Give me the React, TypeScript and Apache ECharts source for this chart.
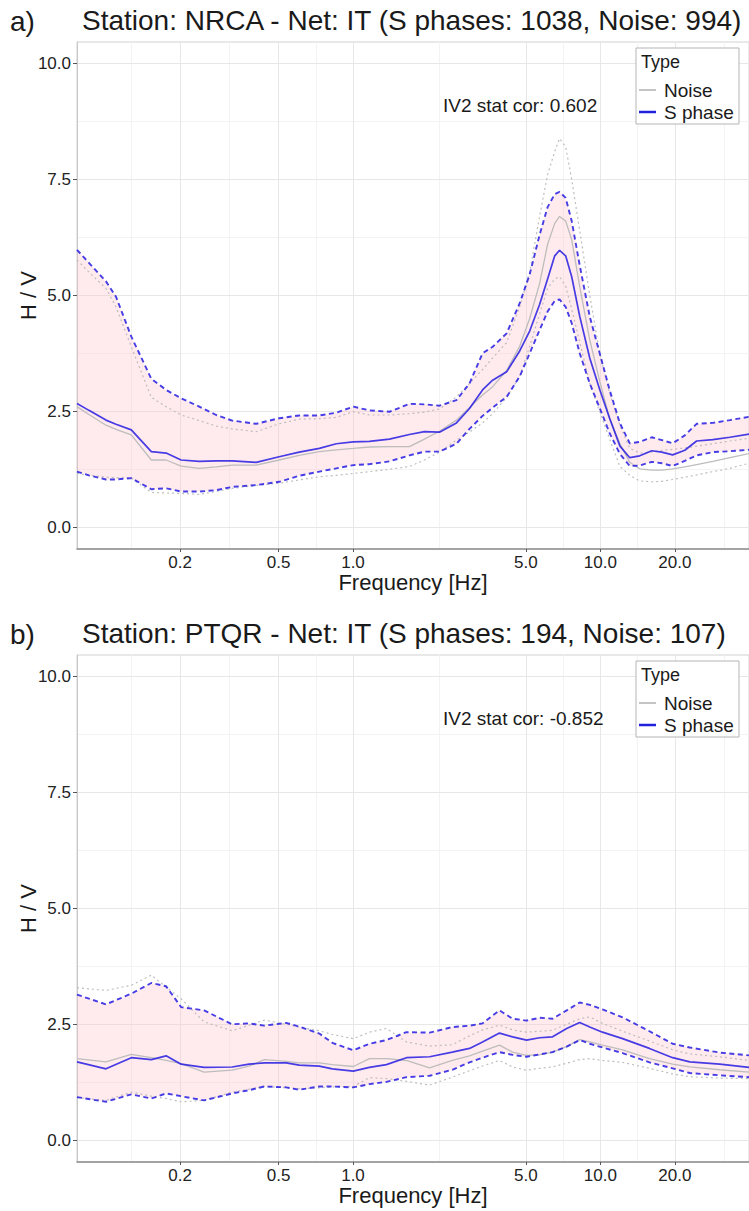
import React, { useEffect, useRef } from "react";
import * as echarts from "echarts";

const FONT = "'Liberation Sans', Arial, Helvetica, sans-serif";

// ---------- Axis tick values ----------
const majorTicksX = [0.2, 0.5, 1, 5, 10, 20];
const minorTicksX = [0.1265, 0.3162, 0.7071, 2.236, 7.071, 14.14, 31.62];
const majorTicksY = [0, 2.5, 5, 7.5, 10];
const minorTicksY = [1.25, 3.75, 6.25, 8.75];

// ---------- Panel a: NRCA ----------
const freqA = [0.0766, 0.0856, 0.1003, 0.1101, 0.127, 0.153, 0.1756, 0.2019, 0.239, 0.2798, 0.3248, 0.406, 0.503, 0.606, 0.731, 0.856, 1.003, 1.165, 1.404, 1.691, 1.944, 2.236, 2.62, 2.958, 3.34, 3.67, 4.18, 4.72, 5.18, 5.68, 6.12, 6.54, 6.84, 7.24, 7.66, 8.25, 9.06, 9.94, 10.9, 12.0, 13.15, 14.43, 16.14, 17.72, 19.6, 21.95, 24.5, 28.5, 33.4, 39.9];
const sMeanA = [2.67, 2.52, 2.31, 2.22, 2.10, 1.63, 1.60, 1.45, 1.42, 1.43, 1.43, 1.40, 1.52, 1.62, 1.70, 1.80, 1.84, 1.85, 1.90, 2.00, 2.06, 2.05, 2.25, 2.56, 2.96, 3.17, 3.35, 3.80, 4.23, 4.80, 5.35, 5.85, 5.97, 5.85, 5.40, 4.55, 3.65, 2.97, 2.35, 1.75, 1.50, 1.54, 1.65, 1.62, 1.56, 1.66, 1.86, 1.89, 1.94, 2.01];
const sUpperA = [5.98, 5.70, 5.30, 4.97, 4.11, 3.20, 2.96, 2.78, 2.60, 2.42, 2.30, 2.23, 2.35, 2.41, 2.41, 2.47, 2.60, 2.52, 2.49, 2.66, 2.65, 2.62, 2.74, 3.10, 3.75, 3.89, 4.18, 4.83, 5.45, 6.30, 6.90, 7.18, 7.23, 7.10, 6.60, 5.65, 4.54, 3.75, 2.96, 2.24, 1.81, 1.84, 1.94, 1.88, 1.81, 1.98, 2.23, 2.25, 2.31, 2.38];
const sLowerA = [1.20, 1.12, 1.03, 1.03, 1.06, 0.82, 0.84, 0.77, 0.77, 0.80, 0.87, 0.91, 0.98, 1.11, 1.20, 1.27, 1.34, 1.36, 1.42, 1.55, 1.63, 1.63, 1.80, 2.12, 2.40, 2.58, 2.81, 3.25, 3.75, 4.25, 4.65, 4.88, 4.91, 4.75, 4.40, 3.75, 3.10, 2.57, 2.03, 1.58, 1.32, 1.33, 1.41, 1.38, 1.32, 1.43, 1.55, 1.62, 1.64, 1.67];
const nMeanA = [2.60, 2.43, 2.20, 2.11, 1.99, 1.45, 1.45, 1.32, 1.27, 1.30, 1.34, 1.34, 1.45, 1.55, 1.63, 1.67, 1.70, 1.73, 1.74, 1.74, 1.90, 2.07, 2.31, 2.58, 2.85, 3.03, 3.38, 3.90, 4.50, 5.25, 6.10, 6.55, 6.70, 6.60, 6.20, 5.19, 4.04, 3.15, 2.35, 1.80, 1.40, 1.26, 1.23, 1.23, 1.26, 1.30, 1.35, 1.42, 1.50, 1.59];
const nUpperA = [5.76, 5.50, 5.15, 4.75, 3.89, 2.80, 2.60, 2.42, 2.30, 2.18, 2.12, 2.06, 2.23, 2.33, 2.34, 2.37, 2.49, 2.42, 2.42, 2.45, 2.48, 2.55, 2.81, 3.10, 3.40, 3.65, 3.98, 4.75, 5.50, 6.70, 7.60, 8.10, 8.38, 8.20, 7.50, 6.40, 5.00, 3.75, 2.90, 2.20, 1.70, 1.60, 1.62, 1.66, 1.68, 1.71, 1.75, 1.80, 1.86, 1.92];
const nLowerA = [1.16, 1.12, 1.08, 1.07, 1.06, 0.75, 0.74, 0.73, 0.71, 0.77, 0.84, 0.90, 0.95, 1.02, 1.09, 1.12, 1.16, 1.20, 1.25, 1.31, 1.45, 1.62, 1.88, 2.05, 2.25, 2.45, 2.80, 3.25, 3.90, 4.60, 5.15, 5.35, 5.40, 5.20, 4.70, 4.00, 3.10, 2.50, 1.90, 1.31, 1.12, 1.00, 0.98, 0.99, 1.03, 1.08, 1.13, 1.20, 1.27, 1.38];

// ---------- Panel b: PTQR ----------
const freqB = [0.0766, 0.1003, 0.127, 0.153, 0.1756, 0.2019, 0.250, 0.3248, 0.380, 0.438, 0.537, 0.606, 0.731, 0.825, 1.003, 1.165, 1.365, 1.644, 2.04, 2.52, 2.958, 3.34, 3.91, 4.42, 5.03, 5.68, 6.41, 7.31, 8.25, 9.06, 10.2, 12.3, 15.8, 19.6, 23.0, 30.4, 39.9];
const sMeanB = [1.69, 1.54, 1.78, 1.74, 1.82, 1.64, 1.57, 1.58, 1.64, 1.67, 1.67, 1.62, 1.60, 1.54, 1.49, 1.57, 1.63, 1.78, 1.80, 1.90, 1.98, 2.12, 2.31, 2.23, 2.16, 2.21, 2.23, 2.41, 2.54, 2.44, 2.33, 2.19, 1.98, 1.78, 1.69, 1.64, 1.57];
const sUpperB = [3.14, 2.93, 3.16, 3.39, 3.32, 2.87, 2.80, 2.50, 2.52, 2.47, 2.53, 2.45, 2.30, 2.10, 1.94, 2.08, 2.16, 2.33, 2.32, 2.44, 2.47, 2.52, 2.80, 2.62, 2.58, 2.64, 2.62, 2.80, 2.97, 2.92, 2.82, 2.65, 2.35, 2.08, 2.00, 1.89, 1.83];
const sLowerB = [0.93, 0.83, 0.99, 0.90, 1.01, 0.95, 0.86, 1.01, 1.08, 1.16, 1.14, 1.09, 1.16, 1.16, 1.14, 1.21, 1.26, 1.36, 1.39, 1.52, 1.68, 1.78, 1.90, 1.84, 1.80, 1.85, 1.90, 2.02, 2.16, 2.08, 2.00, 1.88, 1.68, 1.55, 1.45, 1.40, 1.36];
const nMeanB = [1.76, 1.69, 1.85, 1.78, 1.72, 1.65, 1.47, 1.51, 1.60, 1.74, 1.70, 1.67, 1.67, 1.63, 1.59, 1.76, 1.76, 1.72, 1.56, 1.72, 1.82, 1.92, 2.05, 1.90, 1.83, 1.84, 1.90, 2.02, 2.17, 2.12, 2.05, 1.95, 1.76, 1.64, 1.58, 1.52, 1.47];
const nUpperB = [3.29, 3.23, 3.34, 3.56, 3.30, 3.05, 2.55, 2.36, 2.48, 2.59, 2.50, 2.44, 2.36, 2.28, 2.19, 2.33, 2.41, 2.12, 2.03, 2.06, 2.25, 2.38, 2.48, 2.38, 2.33, 2.35, 2.37, 2.50, 2.62, 2.66, 2.52, 2.35, 2.14, 1.95, 1.86, 1.80, 1.72];
const nLowerB = [0.92, 0.86, 1.04, 0.95, 0.90, 0.83, 0.86, 1.04, 1.10, 1.16, 1.13, 1.11, 1.13, 1.15, 1.16, 1.35, 1.33, 1.27, 1.19, 1.36, 1.50, 1.60, 1.72, 1.58, 1.51, 1.55, 1.58, 1.66, 1.74, 1.76, 1.72, 1.68, 1.55, 1.43, 1.37, 1.34, 1.33];

const titleA = "Station: NRCA - Net: IT (S phases: 1038, Noise: 994)";
const titleB = "Station: PTQR - Net: IT (S phases: 194, Noise: 107)";
const corA = "IV2 stat cor: 0.602";
const corB = "IV2 stat cor: -0.852";

// ---------- Layout ----------
const X_MIN = Math.log10(0.0766);
const X_MAX = Math.log10(39.9);
const Y_MIN = -0.468;
const Y_MAX = 10.459;
const PANEL_TOPS = [42, 655];
const PANEL_H = 507;
const GRID_LEFT = 77;

const S_COLOR = "rgba(38,28,226,0.85)";
const N_COLOR = "#bdbdbd";
const RIBBON = "rgba(255,190,200,0.32)";

function pts(freq: number[], vals: number[]) {
  return freq.map((f, i) => [Math.log10(f), vals[i]]);
}

function buildPanel(p: number, freq: number[], sm: number[], su: number[], sl: number[], nm: number[], nu: number[], nl: number[]) {
  const xi = p * 2;
  const yi = p * 2;
  const base = { type: "line", xAxisIndex: xi, yAxisIndex: yi, symbol: "none", showSymbol: false, silent: true, z: 3 };
  const ribbon = {
    type: "custom",
    name: "ribbon" + p,
    xAxisIndex: xi,
    yAxisIndex: yi,
    silent: true,
    z: 3,
    data: freq.map((f, i) => [Math.log10(f), sl[i], su[i]]),
    encode: { x: 0, y: [1, 2] },
    renderItem: (params: any, api: any) => {
      if (params.dataIndex !== 0) return { type: "group", children: [] };
      const upper = freq.map((f, i) => api.coord([Math.log10(f), su[i]]));
      const lower = freq.map((f, i) => api.coord([Math.log10(f), sl[i]])).reverse();
      return {
        type: "polygon",
        shape: { points: upper.concat(lower) },
        style: { fill: RIBBON, stroke: "none" },
      };
    },
  };
  return [
    { ...base, name: "nu" + p, data: pts(freq, nu), lineStyle: { color: N_COLOR, width: 1.2, type: [2, 3] } },
    { ...base, name: "nl" + p, data: pts(freq, nl), lineStyle: { color: N_COLOR, width: 1.2, type: [2, 3] } },
    { ...base, name: "nm" + p, data: pts(freq, nm), lineStyle: { color: N_COLOR, width: 1.3 } },
    ribbon,
    { ...base, name: "su" + p, data: pts(freq, su), lineStyle: { color: S_COLOR, width: 1.9, type: [5, 3.5] } },
    { ...base, name: "sl" + p, data: pts(freq, sl), lineStyle: { color: S_COLOR, width: 1.9, type: [5, 3.5] } },
    { ...base, name: "sm" + p, data: pts(freq, sm), lineStyle: { color: S_COLOR, width: 1.7 } },
  ];
}

function legendGraphic(top: number) {
  return [
    { type: "rect", shape: { x: 636, y: top, width: 103, height: 76 }, style: { fill: "#ffffff", stroke: "#b5b5b5", lineWidth: 1 }, z: 100 },
    { type: "text", x: 641, y: top + 14, style: { text: "Type", font: `18px ${FONT}`, fill: "#1a1a1a", verticalAlign: "middle" }, z: 101 },
    { type: "line", shape: { x1: 639, y1: top + 42, x2: 656, y2: top + 42 }, style: { stroke: "#c4c4c4", lineWidth: 2 }, z: 101 },
    { type: "text", x: 664, y: top + 42, style: { text: "Noise", font: `19px ${FONT}`, fill: "#1a1a1a", verticalAlign: "middle" }, z: 101 },
    { type: "line", shape: { x1: 639, y1: top + 64, x2: 656, y2: top + 64 }, style: { stroke: "#2020dd", lineWidth: 2.5 }, z: 101 },
    { type: "text", x: 664, y: top + 64, style: { text: "S phase", font: `19px ${FONT}`, fill: "#1a1a1a", verticalAlign: "middle" }, z: 101 },
  ];
}

export default function App() {
  const ref = useRef<HTMLDivElement>(null);
  useEffect(() => {
    if (!ref.current) return;
    const chart = echarts.init(ref.current, undefined, { renderer: "svg" });

    const grids = PANEL_TOPS.map((t) => ({
      left: GRID_LEFT, top: t, width: 749 - GRID_LEFT, height: PANEL_H,
      show: true, borderColor: "#d2d2d2", borderWidth: 1, backgroundColor: "#ffffff",
    }));

    const xAxes: any[] = [];
    const yAxes: any[] = [];
    [0, 1].forEach((g) => {
      xAxes.push({
        type: "value", gridIndex: g, min: X_MIN, max: X_MAX, position: "bottom",
        name: "Frequency [Hz]", nameLocation: "middle", nameGap: 21,
        nameTextStyle: { fontSize: 22, color: "#1a1a1a", fontFamily: FONT },
        axisLine: { show: true, onZero: false, lineStyle: { color: "#8c8c8c", width: 1.5 } },
        axisTick: { show: true, length: 3, lineStyle: { color: "#555" }, customValues: majorTicksX.map((v) => Math.log10(v)) },
        axisLabel: {
          show: true, margin: 5, fontSize: 17, color: "#222", fontFamily: FONT,
          customValues: majorTicksX.map((v) => Math.log10(v)),
          formatter: (v: number) => Math.pow(10, v).toFixed(1),
        },
        splitLine: { show: true, lineStyle: { color: "#e7e7e7", width: 1 } },
        z: 2,
      });
      xAxes.push({
        type: "value", gridIndex: g, min: X_MIN, max: X_MAX, position: "top",
        axisLine: { show: false }, axisLabel: { show: false },
        axisTick: { show: false, customValues: minorTicksX.map((v) => Math.log10(v)) },
        splitLine: { show: true, lineStyle: { color: "#f3f3f3", width: 1 } },
        z: 1,
      });
      yAxes.push({
        type: "value", gridIndex: g, min: Y_MIN, max: Y_MAX, position: "left",
        name: "H / V", nameLocation: "middle", nameGap: 38, nameMoveOverlap: false,
        nameTextStyle: { fontSize: 22, color: "#1a1a1a", fontFamily: FONT },
        axisLine: { show: true, onZero: false, lineStyle: { color: "#c8c8c8", width: 1 } },
        axisTick: { show: true, length: 4, lineStyle: { color: "#555" }, customValues: majorTicksY },
        axisLabel: {
          show: true, margin: 6, fontSize: 17, color: "#222", fontFamily: FONT,
          customValues: majorTicksY, formatter: (v: number) => v.toFixed(1),
        },
        splitLine: { show: true, lineStyle: { color: "#e7e7e7", width: 1 } },
        z: 2,
      });
      yAxes.push({
        type: "value", gridIndex: g, min: Y_MIN, max: Y_MAX, position: "right",
        axisLine: { show: false }, axisLabel: { show: false },
        axisTick: { show: false, customValues: minorTicksY },
        splitLine: { show: true, lineStyle: { color: "#f3f3f3", width: 1 } },
        z: 1,
      });
    });

    const series = [
      ...buildPanel(0, freqA, sMeanA, sUpperA, sLowerA, nMeanA, nUpperA, nLowerA),
      ...buildPanel(1, freqB, sMeanB, sUpperB, sLowerB, nMeanB, nUpperB, nLowerB),
    ];

    const graphic: any[] = [];
    [0, 1].forEach((p) => {
      const off = p === 0 ? 0 : 613;
      graphic.push(
        { type: "text", x: 10, y: 21 + off, style: { text: p === 0 ? "a)" : "b)", font: `28px ${FONT}`, fill: "#1a1a1a", verticalAlign: "middle" } },
        { type: "text", x: 82, y: 20 + off, style: { text: p === 0 ? titleA : titleB, font: `28px ${FONT}`, fill: "#1a1a1a", verticalAlign: "middle" } },
        { type: "text", x: 443, y: 105 + off, style: { text: p === 0 ? corA : corB, font: `19px ${FONT}`, fill: "#1a1a1a", verticalAlign: "middle" }, z: 50 },
        ...legendGraphic(48 + off),
      );
    });

    chart.setOption({
      animation: false,
      backgroundColor: "#ffffff",
      textStyle: { fontFamily: FONT },
      grid: grids,
      xAxis: xAxes,
      yAxis: yAxes,
      series,
      graphic,
    });
    return () => chart.dispose();
  }, []);

  return <div ref={ref} style={{ position: "absolute", left: 0, top: 0, width: 749, height: 1211 }} />;
}
